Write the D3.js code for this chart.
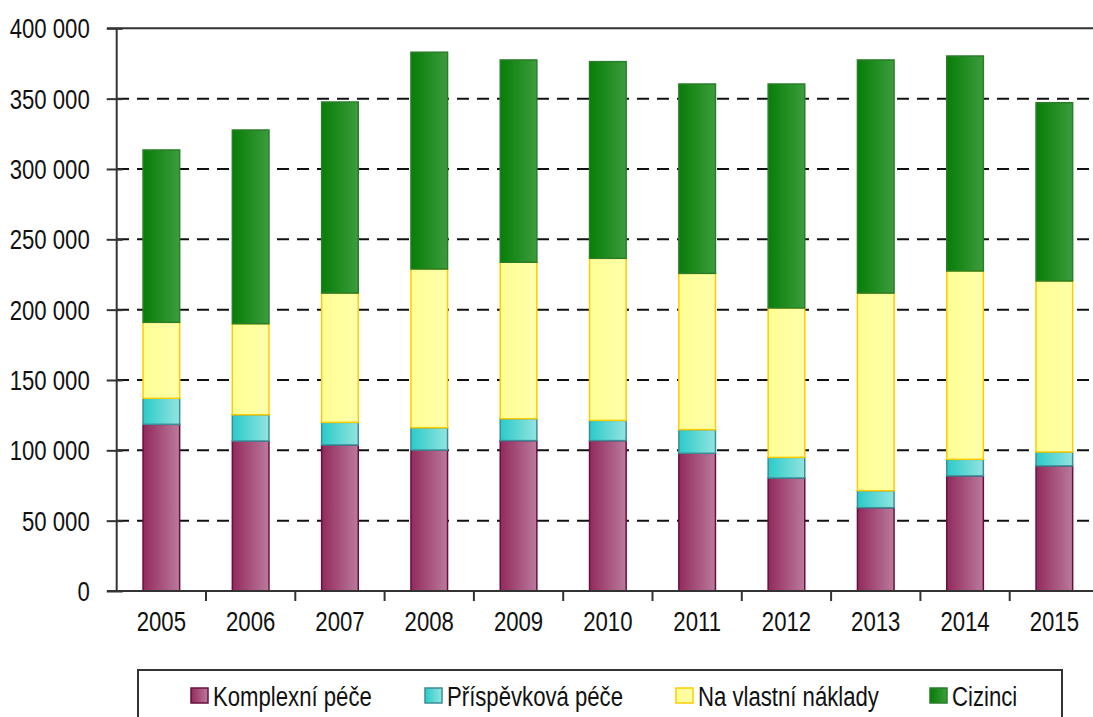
<!DOCTYPE html>
<html><head><meta charset="utf-8">
<script src="https://cdn.jsdelivr.net/npm/d3@7"></script>
<style>body{margin:0;background:#fff}svg{display:block}</style>
</head><body>
<svg id="c" width="1093" height="717"></svg>
<script>
const years = ["2005","2006","2007","2008","2009","2010","2011","2012","2013","2014","2015"];
const komplexni = [118500,106600,103800,100200,106900,106900,97900,80300,59200,81800,88900];
const prispevkova = [18500,18700,16100,15900,15600,14400,16800,14700,12100,11800,9900];
const naVlastni = [54000,64700,91900,112800,111200,115200,111100,106200,140500,133900,121600];
const cizinci = [122500,137700,135800,154100,143800,139800,134600,159200,165700,152800,126700];
const seriesNames = ["Komplexní péče","Příspěvková péče","Na vlastní náklady","Cizinci"];
const yTicks = [0,50000,100000,150000,200000,250000,300000,350000,400000];

const styles = [
  {c0:"#922a5d", c1:"#bb7a9c", stroke:"#6a0f3d"},
  {c0:"#2acbc9", c1:"#92e4e0", stroke:"#3b8d97"},
  {c0:"#ffff94", c1:"#ffffaa", stroke:"#ffcc00"},
  {c0:"#077d07", c1:"#3c9d3c", stroke:"#2a7e2a"}
];
const font = "'Liberation Sans',Arial,sans-serif";
const squeeze = 0.82;
function compress(sel){
  sel.each(function(){
    const w = this.getComputedTextLength();
    d3.select(this).attr("textLength", w*squeeze).attr("lengthAdjust","spacingAndGlyphs");
  });
}

const svg = d3.select("#c");
const defs = svg.append("defs");
styles.forEach((s,i)=>{
  const g = defs.append("linearGradient").attr("id","g"+i).attr("x1","0").attr("x2","1").attr("y1","0").attr("y2","0");
  g.append("stop").attr("offset","0").attr("stop-color",s.c0);
  g.append("stop").attr("offset","1").attr("stop-color",s.c1);
});

const x = d3.scaleBand().domain(years).range([116.7,1099]).paddingInner(0.59).paddingOuter(0.295);
const y = d3.scaleLinear().domain([0,400000]).range([591,28.3]);

const rows = years.map((yr,i)=>({year:yr, s0:komplexni[i], s1:prispevkova[i], s2:naVlastni[i], s3:cizinci[i]}));
const stack = d3.stack().keys(["s0","s1","s2","s3"])(rows);

// gridlines
svg.append("g").selectAll("line").data(yTicks.filter(t=>t>0 && t<400000)).join("line")
  .attr("x1",117).attr("x2",1093).attr("y1",d=>y(d)).attr("y2",d=>y(d))
  .attr("stroke","#111").attr("stroke-width",2).attr("stroke-dasharray","12,8");
// top line
svg.append("line").attr("x1",107).attr("x2",1093).attr("y1",y(400000)).attr("y2",y(400000))
  .attr("stroke","#333").attr("stroke-width",2);

// bars
svg.append("g").selectAll("g").data(stack).join("g")
  .attr("fill",(d,i)=>"url(#g"+i+")").attr("stroke",(d,i)=>styles[i].stroke).attr("stroke-width",1.5)
  .selectAll("rect").data(d=>d).join("rect")
  .attr("x",d=>x(d.data.year)).attr("width",x.bandwidth())
  .attr("y",d=>y(d[1])).attr("height",d=>y(d[0])-y(d[1]));

// y axis
const yAxis = svg.append("g").attr("transform","translate(116.7,0)")
  .call(d3.axisLeft(y).tickValues(yTicks).tickSize(10).tickPadding(17)
    .tickFormat(d=>d3.format(",")(d).replace(/,/g," ")));
yAxis.select(".domain").attr("stroke","#333").attr("stroke-width",2).attr("d","M0,28.3V591");
yAxis.selectAll(".tick line").attr("stroke","#333").attr("stroke-width",2).attr("x2",-10).attr("x1",6);
yAxis.selectAll("text").attr("font-family",font).attr("font-size",27).attr("fill","#111").attr("dy","0.35em").call(compress);

// x axis
const xAxis = svg.append("g").attr("transform","translate(0,591)")
  .call(d3.axisBottom(x).tickSize(0).tickPadding(21));
xAxis.select(".domain").attr("stroke","#333").attr("stroke-width",2).attr("d","M107,0H1093");
xAxis.selectAll("text").attr("font-family",font).attr("font-size",27).attr("fill","#111").call(compress);
const step = x.step();
xAxis.append("g").selectAll("line").data(d3.range(1,11)).join("line")
  .attr("x1",d=>116.7+d*step).attr("x2",d=>116.7+d*step).attr("y1",0).attr("y2",10)
  .attr("stroke","#333").attr("stroke-width",2);

// legend
const lg = svg.append("g");
lg.append("rect").attr("x",138).attr("y",670).attr("width",924).attr("height",80)
  .attr("fill","#fff").attr("stroke","#333").attr("stroke-width",2);
const legX = [191,425,676,930];
seriesNames.forEach((n,i)=>{
  lg.append("rect").attr("x",legX[i]).attr("y",688).attr("width",17).attr("height",15)
    .attr("fill","url(#g"+i+")").attr("stroke",styles[i].stroke).attr("stroke-width",1.5);
  lg.append("text").attr("x",legX[i]+22).attr("y",706).text(n)
    .attr("font-family",font).attr("font-size",27).attr("fill","#111").call(compress);
});
</script>
</body></html>
